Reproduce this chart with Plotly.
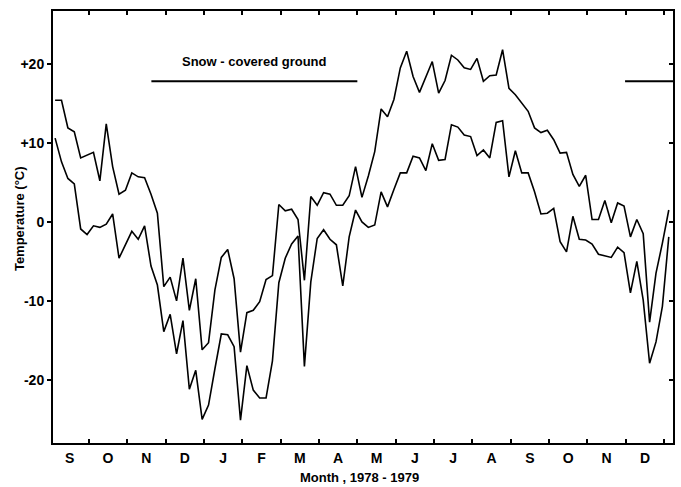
import plotly.graph_objects as go

# Pentad (6 per month) mean temperatures, Sep 1978 - early Jan 1980
upper_temp = [15.4, 15.4, 11.9, 11.4, 8.1, 8.5, 8.8, 5.2, 12.4, 7.0,
              3.5, 4.0, 6.2, 5.7, 5.6, 3.5, 1.1, -8.2, -7.0, -10.0,
              -4.6, -11.2, -7.2, -16.2, -15.3, -8.6, -4.5, -3.5, -7.2, -16.5,
              -11.5, -11.2, -10.1, -7.3, -6.8, 2.2, 1.4, 1.6, 0.3, -7.4,
              3.2, 2.1, 3.7, 3.5, 2.1, 2.1, 3.3, 7.0, 3.1, 5.8,
              8.9, 14.3, 13.3, 15.5, 19.5, 21.6, 18.4, 16.4, 18.4, 20.3,
              16.3, 17.9, 21.1, 20.5, 19.5, 19.3, 20.7, 17.8, 18.5, 18.6,
              21.8, 16.9, 16.1, 15.1, 14.0, 11.9, 11.3, 11.6, 10.4, 8.7,
              8.8, 6.0, 4.5, 5.9, 0.3, 0.3, 2.7, -0.1, 2.4, 2.0,
              -1.9, 0.3, -1.5, -12.7, -6.5, -2.7, 1.5]

lower_temp = [10.6, 7.6, 5.5, 4.8, -0.9, -1.6, -0.5, -0.7, -0.3, 1.0,
              -4.6, -2.9, -1.2, -2.2, -0.5, -5.6, -8.0, -13.9, -11.7, -16.7,
              -12.5, -21.2, -18.8, -25.0, -23.2, -18.6, -14.2, -14.3, -15.8, -25.1,
              -18.2, -21.3, -22.3, -22.3, -17.6, -7.7, -4.6, -2.8, -1.8, -18.3,
              -7.6, -2.1, -1.0, -2.2, -2.9, -8.1, -1.9, 1.5, 0.0, -0.7,
              -0.4, 3.8, 1.9, 4.1, 6.2, 6.2, 8.3, 8.1, 6.5, 9.9,
              7.8, 7.9, 12.3, 12.0, 11.0, 10.8, 8.4, 9.1, 8.1, 12.6,
              12.8, 5.7, 9.0, 6.2, 6.2, 3.8, 1.0, 1.1, 1.7, -2.5,
              -3.8, 0.7, -2.2, -2.3, -2.8, -4.1, -4.3, -4.5, -3.2, -3.9,
              -9.0, -5.0, -9.9, -17.9, -15.2, -10.7, -1.9]

month_letters = ["S", "O", "N", "D", "J", "F", "M", "A",
                 "M", "J", "J", "A", "S", "O", "N", "D"]

# snow-cover periods, in months since 1 Sep 1978
snow_start = [2.63, 14.98]
snow_end = [8.0, 16.23]
snow_level = 17.8

y_tick_vals = [-20, -10, 0, 10, 20]
y_tick_text = ["-20", "-10", "0", "+10", "+20"]

# x positions: months since 1 Sep 1978, six pentads per month
x_pos = [0.12 + i / 6 for i in range(len(upper_temp))]

X_RANGE = [0.065, 16.23]
Y_RANGE = [-28, 26.7]

fig = go.Figure()
line_style = dict(color="black", width=1.6)
fig.add_trace(go.Scatter(x=x_pos, y=upper_temp, mode="lines", line=line_style,
                         showlegend=False, hoverinfo="skip"))
fig.add_trace(go.Scatter(x=x_pos, y=lower_temp, mode="lines", line=line_style,
                         showlegend=False, hoverinfo="skip"))
for s, e in zip(snow_start, snow_end):
    fig.add_trace(go.Scatter(x=[s, e], y=[snow_level, snow_level], mode="lines",
                             line=dict(color="black", width=2),
                             showlegend=False, hoverinfo="skip"))
# invisible trace for right-side axis ticks
fig.add_trace(go.Scatter(x=[X_RANGE[0]], y=[0], yaxis="y2", mode="markers",
                         marker=dict(opacity=0), showlegend=False, hoverinfo="skip"))

FAM = "Liberation Sans, Arial, sans-serif"
bold = dict(family=FAM, size=14, color="black", weight="bold")

fig.update_layout(
    width=681, height=487,
    margin=dict(l=53, r=6, t=11, b=44),
    paper_bgcolor="white", plot_bgcolor="white",
    xaxis=dict(
        range=X_RANGE, showgrid=False, zeroline=False,
        showline=True, linecolor="black", linewidth=2, mirror="ticks",
        tickmode="array", tickvals=[k + 0.5 for k in range(16)], ticktext=month_letters,
        ticks="", tickfont=bold, ticklabelstandoff=1,
        minor=dict(tickmode="array", tickvals=list(range(1, 17)), ticks="inside",
                   ticklen=4, tickwidth=1.5, tickcolor="black", showgrid=False),
    ),
    yaxis=dict(
        range=Y_RANGE, showgrid=False, zeroline=False,
        showline=True, linecolor="black", linewidth=2, mirror=True,
        tickmode="array", tickvals=y_tick_vals, ticktext=y_tick_text,
        ticks="outside", ticklen=4, tickwidth=1.5, tickcolor="black",
        tickfont=bold,
    ),
    yaxis2=dict(
        range=Y_RANGE, overlaying="y", side="right", showgrid=False, zeroline=False,
        showline=False, tickmode="array", tickvals=y_tick_vals, showticklabels=False,
        ticks="inside", ticklen=4, tickwidth=1.5, tickcolor="black",
    ),
    annotations=[
        dict(text="Snow - covered ground", x=5.32, y=20.25, xref="x", yref="y",
             xanchor="center", yanchor="middle", showarrow=False,
             font=dict(family=FAM, size=13, color="black", weight="bold")),
        dict(text="Month , 1978 - 1979", x=0.494, y=-0.081, xref="paper", yref="paper",
             xanchor="center", yanchor="middle", showarrow=False,
             font=dict(family=FAM, size=13, color="black", weight="bold")),
        dict(text="Temperature (°C)", x=-0.0547, y=0.5185, xref="paper", yref="paper",
             xanchor="center", yanchor="middle", textangle=-90, showarrow=False,
             font=dict(family=FAM, size=13, color="black", weight="bold")),
    ],
)

fig.write_html("out.html")
